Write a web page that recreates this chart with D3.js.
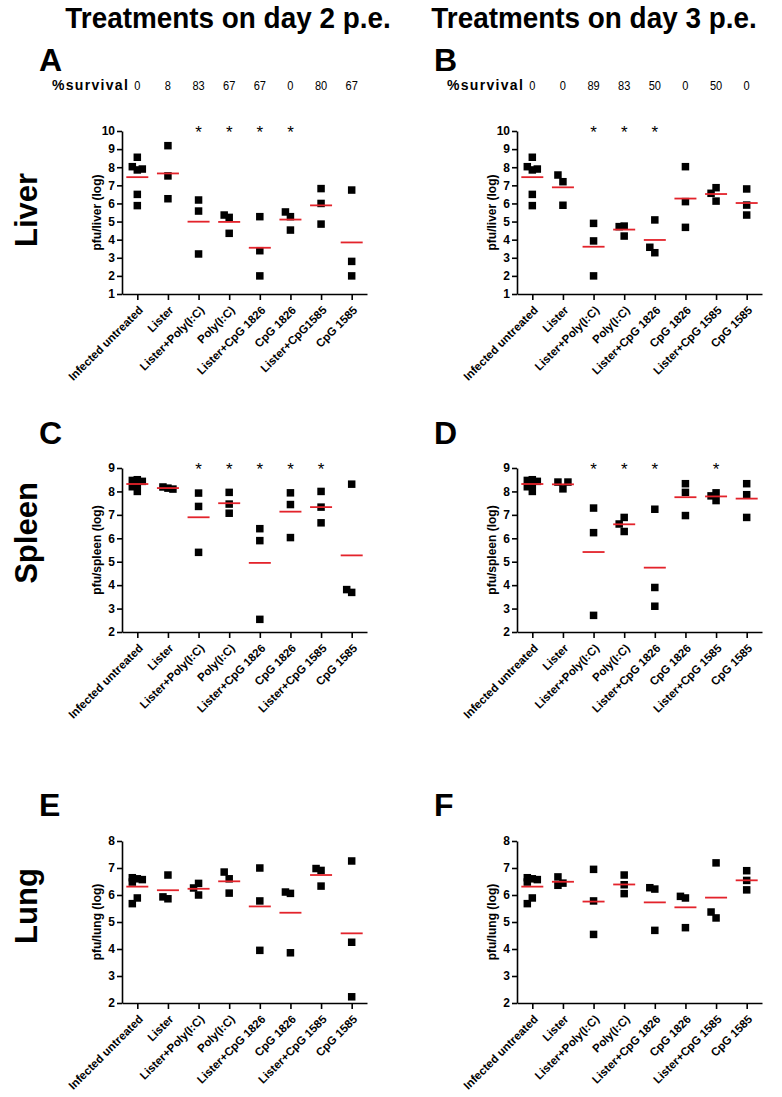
<!DOCTYPE html>
<html>
<head>
<meta charset="utf-8">
<script src="https://cdn.jsdelivr.net/npm/d3@7"></script>
<style>
	body { margin: 0; background: #fff; }
	svg { display: block; }
</style>
</head>
<body>
<div id="chart"></div>
<script>
// categories (panel A spells the 7th one without a space)
const categoriesA = ['Infected untreated', 'Lister', 'Lister+Poly(I:C)', 'Poly(I:C)',
	'Lister+CpG 1826', 'CpG 1826', 'Lister+CpG1585', 'CpG 1585'];
const categories = ['Infected untreated', 'Lister', 'Lister+Poly(I:C)', 'Poly(I:C)',
	'Lister+CpG 1826', 'CpG 1826', 'Lister+CpG 1585', 'CpG 1585'];

const survivalDay2 = [0, 8, 83, 67, 67, 0, 80, 67];
const survivalDay3 = [0, 0, 89, 83, 50, 0, 50, 0];

// 1 = marked with an asterisk
const sigLiverDay2 = [0, 0, 1, 1, 1, 1, 0, 0];
const sigLiverDay3 = [0, 0, 1, 1, 1, 0, 0, 0];
const sigSpleenDay2 = [0, 0, 1, 1, 1, 1, 1, 0];
const sigSpleenDay3 = [0, 0, 1, 1, 1, 0, 1, 0];
const sigLungDay2 = [0, 0, 0, 0, 0, 0, 0, 0];
const sigLungDay3 = [0, 0, 0, 0, 0, 0, 0, 0];

// log pfu per mouse, one array per treatment group
const liverDay2 = [
	[8.55, 7.85, 8.03, 7.9, 6.5, 5.88],
	[9.19, 7.52, 6.26],
	[6.19, 5.58, 3.21],
	[5.23, 4.35, 5.36],
	[5.27, 3.39, 2.0],
	[5.27, 4.53, 5.53],
	[6.82, 6.0, 4.86],
	[6.74, 2.8, 2.0]
];
const liverDay3 = [
	[8.55, 7.85, 8.03, 7.9, 6.5, 5.88],
	[7.2, 5.9, 7.57],
	[4.9, 3.93, 2.0],
	[4.75, 4.2, 4.72],
	[5.09, 3.28, 3.58],
	[8.03, 6.1, 4.68],
	[6.87, 6.13, 6.56],
	[6.8, 5.91, 5.36]
];
const spleenDay2 = [
	[8.5, 8.47, 8.43, 8.3, 8.2, 8.0],
	[8.14, 8.19, 8.1],
	[7.93, 7.36, 5.4],
	[7.96, 7.07, 7.46],
	[6.41, 5.9, 2.54],
	[7.94, 7.44, 6.03],
	[8.0, 7.33, 6.66],
	[8.31, 3.69, 3.81]
];
const spleenDay3 = [
	[8.5, 8.47, 8.43, 8.3, 8.2, 8.0],
	[8.11, 8.4, 8.4],
	[7.29, 6.24, 2.71],
	[6.89, 6.29, 6.61],
	[7.24, 3.9, 3.1],
	[7.96, 6.97, 8.33],
	[7.61, 7.81, 7.94],
	[8.33, 7.86, 6.89]
];
const lungDay2 = [
	[6.6, 6.64, 6.57, 6.48, 5.89, 5.68],
	[6.74, 5.86, 5.93],
	[6.43, 6.0, 6.26],
	[6.6, 6.07, 6.85],
	[7.0, 5.78, 3.95],
	[6.06, 3.86, 6.11],
	[6.91, 6.33, 6.98],
	[7.26, 4.25, 2.23]
];
const lungDay3 = [
	[6.6, 6.64, 6.57, 6.48, 5.89, 5.68],
	[6.44, 6.36, 6.67],
	[6.95, 5.78, 4.54],
	[6.74, 6.05, 6.38],
	[6.22, 4.69, 6.27],
	[5.89, 4.79, 5.95],
	[7.19, 5.15, 5.37],
	[6.54, 6.19, 6.9]
];

const width = 782;
const height = 1097;
const ARIAL = 'Liberation Sans, Arial, Helvetica, sans-serif';
const RED = '#e3232b';

const svg = d3.select('#chart').append('svg')
	.attr('width', width)
	.attr('height', height)
	.style('background', '#fff');

const cols = [{ x0: 122, x1: 367 }, { x0: 517, x1: 762 }];
const rows = [
	{ name: 'Liver', domain: [1, 10], top: 131, bottom: 294, letterY: 71, labelY: 210, unit: 'liver' },
	{ name: 'Spleen', domain: [2, 9], top: 468, bottom: 632, letterY: 444, labelY: 533, unit: 'spleen' },
	{ name: 'Lung', domain: [2, 8], top: 841, bottom: 1003, letterY: 816, labelY: 906, unit: 'lung' }
];

const panels = [
	{ letter: 'A', row: 0, col: 0, data: liverDay2, sig: sigLiverDay2, cats: categoriesA },
	{ letter: 'B', row: 0, col: 1, data: liverDay3, sig: sigLiverDay3, cats: categories },
	{ letter: 'C', row: 1, col: 0, data: spleenDay2, sig: sigSpleenDay2, cats: categories },
	{ letter: 'D', row: 1, col: 1, data: spleenDay3, sig: sigSpleenDay3, cats: categories },
	{ letter: 'E', row: 2, col: 0, data: lungDay2, sig: sigLungDay2, cats: categories },
	{ letter: 'F', row: 2, col: 1, data: lungDay3, sig: sigLungDay3, cats: categories }
];

// column titles, squeezed a bit to mimic a condensed face
[['Treatments on day 2 p.e.', 228], ['Treatments on day 3 p.e.', 594]].forEach(([t, cx]) => {
	svg.append('text')
		.attr('transform', `translate(${cx},28) scale(0.93,1)`)
		.attr('text-anchor', 'middle')
		.style('font-family', ARIAL)
		.style('font-weight', 'bold')
		.style('font-size', '30px')
		.text(t);
});

// organ labels
rows.forEach(r => {
	svg.append('text')
		.attr('transform', `translate(37,${r.labelY}) rotate(-90)`)
		.attr('text-anchor', 'middle')
		.style('font-family', ARIAL)
		.style('font-weight', 'bold')
		.style('font-size', '31px')
		.text(r.name);
});

// spread points that would overlap into side slots, like a column scatter
const placePoints = (values, y, size) => {
	const placed = [];
	return values.map(v => {
		const py = y(v);
		let best = null;
		let bestDist = -1;
		for (const slot of [0, -1, 1]) {
			const others = placed.filter(p => p.slot === slot);
			const dist = others.length ? d3.min(others, p => Math.abs(p.py - py)) : Infinity;
			if (dist >= size) { best = slot; break; }
			if (dist > bestDist) { bestDist = dist; best = slot; }
		}
		const p = { v, py, slot: best };
		placed.push(p);
		return p;
	});
};

panels.forEach(p => {
	const row = rows[p.row];
	const col = cols[p.col];
	const g = svg.append('g');

	const x = d3.scalePoint()
		.domain(d3.range(p.cats.length))
		.range([col.x0, col.x1])
		.padding(0.5);

	const y = d3.scaleLinear()
		.domain(row.domain)
		.range([row.bottom, row.top]);

	// panel letter
	g.append('text')
		.attr('x', col.x0 - 83)
		.attr('y', row.letterY)
		.style('font-family', ARIAL)
		.style('font-weight', 'bold')
		.style('font-size', '32px')
		.text(p.letter);

	// survival row only over the liver panels
	if (p.row === 0) {
		const surv = p.col === 0 ? survivalDay2 : survivalDay3;
		g.append('text')
			.attr('x', col.x0 - 70)
			.attr('y', 90)
			.style('font-family', ARIAL)
			.style('font-weight', 'bold')
			.style('font-size', '14px')
			.style('letter-spacing', '1.3px')
			.text('%survival');

		g.selectAll('.surv')
			.data(surv)
			.enter()
			.append('text')
			.attr('transform', (d, i) => `translate(${x(i)},90) scale(0.85,1)`)
			.attr('text-anchor', 'middle')
			.style('font-family', ARIAL)
			.style('font-size', '13px')
			.text(d => d);
	}

	// y axis
	const yAxis = g.append('g')
		.attr('transform', `translate(${col.x0},0)`)
		.call(d3.axisLeft(y)
			.tickValues(d3.range(row.domain[0], row.domain[1] + 1))
			.tickFormat(d3.format('d'))
			.tickSize(5)
			.tickSizeOuter(0)
			.tickPadding(2));

	// x axis
	const xAxis = g.append('g')
		.attr('transform', `translate(0,${row.bottom})`)
		.call(d3.axisBottom(x)
			.tickFormat(i => p.cats[i])
			.tickSize(6)
			.tickSizeOuter(0));

	[yAxis, xAxis].forEach(ax => {
		ax.selectAll('path, line').attr('stroke', '#000').attr('stroke-width', 1.6);
		ax.selectAll('text')
			.attr('fill', '#000')
			.style('font-family', ARIAL)
			.style('font-weight', 'bold')
			.style('font-size', '12px');
	});

	xAxis.selectAll('text')
		.attr('x', 0)
		.attr('y', 0)
		.attr('dy', '0.35em')
		.attr('text-anchor', 'end')
		.attr('transform', 'translate(3,14) rotate(-45)')
		.style('font-size', '11.5px');

	// y axis title
	g.append('text')
		.attr('transform', `translate(${col.x0 - 21},${(row.top + row.bottom) / 2}) rotate(-90)`)
		.attr('text-anchor', 'middle')
		.style('font-family', ARIAL)
		.style('font-weight', 'bold')
		.style('font-size', '12px')
		.text(`pfu/${row.unit} (log)`);

	// asterisks
	g.selectAll('.star')
		.data(p.sig.map((s, i) => ({ s, i })).filter(d => d.s))
		.enter()
		.append('text')
		.attr('x', d => x(d.i))
		.attr('y', row.top + 7)
		.attr('text-anchor', 'middle')
		.style('font-family', ARIAL)
		.style('font-size', '17px')
		.text('*');

	const size = 7.5;
	const step = 5;

	p.data.forEach((values, i) => {
		const pts = placePoints(values, y, 7);
		g.selectAll(null)
			.data(pts)
			.enter()
			.append('rect')
			.attr('x', d => x(i) + d.slot * step - size / 2)
			.attr('y', d => d.py - size / 2)
			.attr('width', size)
			.attr('height', size)
			.attr('fill', '#000');

		const m = d3.mean(values);
		g.append('line')
			.attr('x1', x(i) - 11)
			.attr('x2', x(i) + 11)
			.attr('y1', y(m))
			.attr('y2', y(m))
			.attr('stroke', RED)
			.attr('stroke-width', 1.8);
	});
});
</script>
</body>
</html>
